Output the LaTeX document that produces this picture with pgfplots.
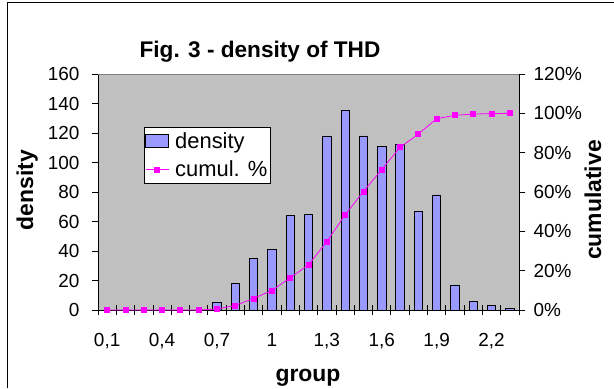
\documentclass[border=0pt]{standalone}
\usepackage{fontspec}
\setmainfont{Liberation Sans}
\usepackage{pgfplots}
\usepackage{pgfplotstable}
\pgfplotsset{compat=1.18}
\definecolor{barcol}{HTML}{9999FF}
\definecolor{plotbg}{HTML}{C0C0C0}
\definecolor{cumcol}{HTML}{FF00FF}
\definecolor{topgray}{HTML}{808080}

\pgfplotstableread{
x dens cum
1 0 0
2 0 0
3 0 0
4 0 0
5 0 0
6 0 0
7 5 0.50
8 18 2.31
9 35 5.84
10 41 9.96
11 64 16.40
12 65 22.94
13 118 34.81
14 135 48.39
15 118 60.26
16 111 71.43
17 112 82.70
18 67 89.44
19 78 97.28
20 17 98.99
21 6 99.60
22 3 99.90
23 1 100
}\datatable

\begin{document}
\begin{tikzpicture}[x=1bp,y=1bp]
\useasboundingbox (0,0) rectangle (614,388);
\draw[line width=1bp] (7,0) -- (7,385) -- (614,385);

% bars, left axis
\begin{axis}[
  at={(98bp,78bp)}, anchor=south west, scale only axis,
  width=421bp, height=236bp,
  xmin=0.5, xmax=23.5, ymin=0, ymax=160,
  axis x line*=bottom, axis y line*=left,
  axis line style={-, line width=0.8bp},
  axis background/.style={fill=plotbg},
  tick align=outside, major tick length=6bp,
  tick style={black, line width=0.8bp},
  xtick={1,4,...,22},
  xticklabels={{0,1},{0,4},{0,7},{1},{1,3},{1,6},{1,9},{2,2}},
  xtick style={draw=none},
  ytick={0,20,...,160},
  ticklabel style={font=\fontsize{19}{22}\selectfont},
  /pgf/number format/assume math mode=true,
  xticklabel style={yshift=-14bp},
  yticklabel style={xshift=-9bp},
  ybar, bar width=8.4bp,
]
\addplot[fill=barcol, draw=black, line width=0.8bp] table[x=x,y=dens]{\datatable};
\draw[topgray, line width=0.8bp] (rel axis cs:0,1) -- (rel axis cs:1,1);
\end{axis}

% x tick marks at category boundaries
\begin{axis}[
  at={(98bp,78bp)}, anchor=south west, scale only axis,
  width=421bp, height=236bp,
  xmin=0.5, xmax=23.5, ymin=0, ymax=1,
  axis x line*=bottom, axis y line=none,
  axis line style={-, line width=0.8bp},
  tick align=center, major tick length=10bp,
  tick style={black, line width=0.8bp},
  xtick={0.5,1.5,...,23.5}, xticklabels={},
]
\end{axis}

% cumulative line, right axis
\begin{axis}[
  at={(98bp,78bp)}, anchor=south west, scale only axis,
  width=421bp, height=236bp,
  xmin=0.5, xmax=23.5, ymin=0, ymax=120,
  axis x line=none, axis y line*=right,
  axis line style={-, line width=0.8bp},
  tick align=outside, major tick length=6bp,
  tick style={black, line width=0.8bp},
  ytick={0,20,...,120},
  yticklabels={0\%,20\%,40\%,60\%,80\%,100\%,120\%},
  ticklabel style={font=\fontsize{19}{22}\selectfont},
  yticklabel style={xshift=5bp},
  legend cell align=left,
  legend style={at={(0.1093,0.7754)}, anchor=north west, draw=black, fill=white,
    line width=0.8bp, font=\fontsize{22}{26}\selectfont,
    inner xsep=1bp, inner ysep=3bp, row sep=7bp},
]
\addlegendimage{legend image code/.code={\draw[fill=barcol,draw=black,line width=0.8bp] (0bp,-6.5bp) rectangle (23bp,6.5bp); \path (27bp,0bp);}}
\addlegendentry{density}
\addplot[cumcol, line width=0.8bp, mark=square*, mark size=2.5bp,
  mark options={solid, fill=cumcol, draw=cumcol},
  legend image code/.code={\draw[cumcol, line width=0.8bp, mark=square*, mark size=2.5bp, mark options={fill=cumcol,draw=cumcol}, mark repeat=2, mark phase=2] plot coordinates {(0bp,0bp) (11.5bp,0bp) (23bp,0bp)}; \path (27bp,0bp);}]
  table[x=x,y=cum]{\datatable};
\addlegendentry{cumul. \%}
\end{axis}

\node[anchor=base, font=\fontsize{22.7}{27}\selectfont\bfseries] at (260,331) {Fig. 3 - density of THD};
\node[anchor=base, font=\fontsize{23}{27}\selectfont\bfseries] at (308,7) {group};
\node[anchor=base, rotate=90, font=\fontsize{23}{27}\selectfont\bfseries] at (33,198) {density};
\node[anchor=base, rotate=90, font=\fontsize{23}{27}\selectfont\bfseries] at (601,188) {cumulative};
\end{tikzpicture}
\end{document}
